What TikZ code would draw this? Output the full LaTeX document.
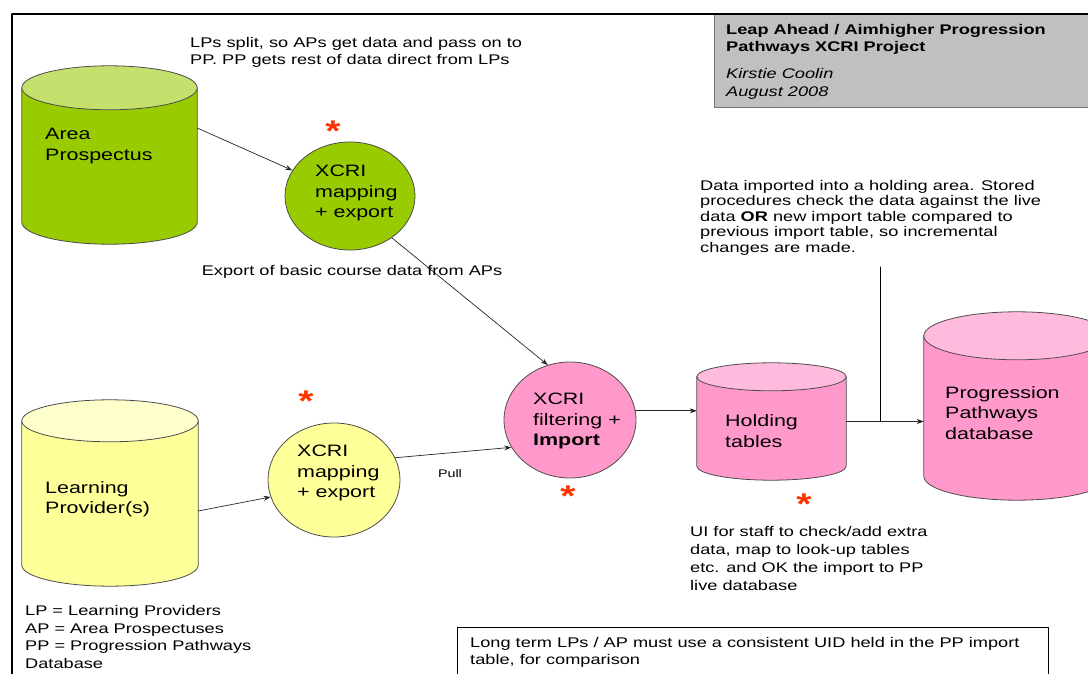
\documentclass[tikz,border=0pt]{standalone}
\usepackage{fontspec}
\setmainfont{Liberation Sans}[FakeStretch=1.3]
\usetikzlibrary{arrows.meta,shapes.geometric,calc}
\definecolor{apgreen}{HTML}{99CC00}
\definecolor{apgreentop}{HTML}{C6E06E}
\definecolor{lpyellow}{HTML}{FFFF99}
\definecolor{lpyellowtop}{HTML}{FFFFCC}
\definecolor{pppink}{HTML}{FF99CC}
\definecolor{pppinktop}{HTML}{FFBBDD}
\definecolor{starred}{HTML}{FF3300}
\definecolor{titlegrey}{HTML}{C0C0C0}
% cylinder drawn over a named box: node, cap radius, body colour, cap colour
\newcommand\dbdraw[4]{%
  \path[draw=black!70,line width=0.8pt,fill=#3] let \p1=(#1.north west),\p2=(#1.south east),\n1={(\x2-\x1)/2} in
    (\x1,\y1-#2) -- (\x1,\y2+#2) arc[start angle=180,end angle=360,x radius=\n1,y radius=#2] -- (\x2,\y1-#2) -- cycle;
  \path[draw=black!70,line width=0.8pt,fill=#4] let \p1=(#1.north west),\p2=(#1.north east),\n1={(\x2-\x1)/2} in
    (\x1+\n1,\y1-#2) ellipse [x radius=\n1,y radius=#2];
}

\begin{document}
\begin{tikzpicture}[x=1pt,y=-1pt,line cap=round,line join=round,
  dbbox/.style={rectangle,draw=none,inner sep=0pt},
  proc/.style={ellipse,draw=black!70,line width=0.8pt,inner sep=0pt},
  lbl/.style={font=\fontsize{16.5}{20.5}\selectfont,align=left,anchor=west,inner sep=0pt},
  note/.style={font=\fontsize{14}{17}\selectfont,align=left,anchor=north west,inner sep=0pt},
  star/.style={font=\fontsize{30}{30}\selectfont\bfseries,text=starred,inner sep=0pt},
  arr/.style={-{Stealth[length=7pt,width=5pt]},black!85,line width=0.7pt}]
\useasboundingbox (0,0) rectangle (1088,674);
% title box and frame
\path[fill=titlegrey,draw=black!55,line width=1pt] (1095,14) -- (714,14) -- (714,108) -- (1095,108);
\node[note,font=\fontsize{14}{17}\selectfont\bfseries] (title) at (726,24) {Leap Ahead / Aimhigher Progression\\Pathways XCRI Project};
\node[note,font=\fontsize{14}{18}\selectfont\itshape] (author) at (726,68) {Kirstie Coolin\\August 2008};
\draw[line width=2pt] (1088,14) -- (12,14) -- (12,674);
% stores
\node[dbbox,minimum width=175pt,minimum height=178pt] (ap) at (109.5,155) {};
\node[dbbox,minimum width=176pt,minimum height=186pt] (lp) at (110,493) {};
\node[dbbox,minimum width=149pt,minimum height=117pt] (hold) at (771.5,421.5) {};
\node[dbbox,minimum width=186pt,minimum height=188pt] (ppdb) at (1017,406) {};
\dbdraw{ap}{22pt}{apgreen}{apgreentop}
\dbdraw{lp}{21pt}{lpyellow}{lpyellowtop}
\dbdraw{hold}{14pt}{pppink}{pppinktop}
\dbdraw{ppdb}{24pt}{pppink}{pppinktop}
\node[lbl] (aptxt) at (45,146) {Area\\Prospectus};
\node[lbl] (lptxt) at (45,499) {Learning\\Provider(s)};
\node[lbl] (holdtxt) at (725,431) {Holding\\tables};
\node[lbl] (ppdbtxt) at (945,413) {Progression\\Pathways\\database};
% processes
\node[proc,fill=apgreen,minimum width=130pt,minimum height=108pt] (gmap) at (350,196) {};
\node[lbl] (gmaptxt) at (315,193) {XCRI\\mapping\\+ export};
\node[proc,fill=lpyellow,minimum width=132pt,minimum height=114pt] (ymap) at (334,480) {};
\node[lbl] (ymaptxt) at (297,473) {XCRI\\mapping\\+ export};
\node[proc,fill=pppink,minimum width=132pt,minimum height=116pt] (pimp) at (570,420) {};
\node[lbl] (pimptxt) at (533,421) {XCRI\\filtering +\\\textbf{Import}};
% stars
\node[star] (star1) at (333,131) {*};
\node[star] (star2) at (306,401) {*};
\node[star] (star3) at (568,496) {*};
\node[star] (star4) at (804,504) {*};
% connectors
\draw[arr] ([yshift=27pt]ap.east) -- (gmap);
\draw[arr] (gmap.-45) -- (pimp.112);
\draw[arr] ([yshift=-18pt]lp.east) -- (ymap.195);
\draw[arr] (ymap.20) -- (pimp.205);
\draw[arr] (pimp.8) -- (pimp.8 -| hold.west);
\draw[arr] (hold.east) -- (hold.east -| ppdb.west);
\coordinate (jtop) at (880,267);
\coordinate (jn) at (hold.east -| jtop);
\draw[line width=0.8pt] (jtop) -- (jn);
% notes
\node[note] (splitnote) at (190,37) {LPs split, so APs get data and pass on to\\PP. PP gets rest of data direct from LPs};
\node[note,anchor=center] (exportnote) at (352,272) {Export of basic course data from APs};
\node[note,anchor=center,font=\fontsize{11}{13}\selectfont] (pullnote) at (450,474) {Pull};
\node[note,font=\fontsize{14}{15.5}\selectfont] (datanote) at (700,180) {Data imported into a holding area. Stored\\procedures check the data against the live\\data \textbf{OR} new import table compared to\\previous import table, so incremental\\changes are made.};
\node[note,font=\fontsize{14}{18}\selectfont] (uinote) at (690,526) {UI for staff to check/add extra\\data, map to look-up tables\\etc. and OK the import to PP\\live database};
\node[note,font=\fontsize{14}{17.7}\selectfont] (legend) at (25,605) {LP = Learning Providers\\AP = Area Prospectuses\\PP = Progression Pathways\\Database};
\draw[line width=0.8pt] (457,680) -- (457,627) -- (1048,627) -- (1048,680);
\node[note] (uidnote) at (470,637) {Long term  LPs / AP must use a consistent UID held in the PP import\\table, for comparison};
\end{tikzpicture}
\end{document}
